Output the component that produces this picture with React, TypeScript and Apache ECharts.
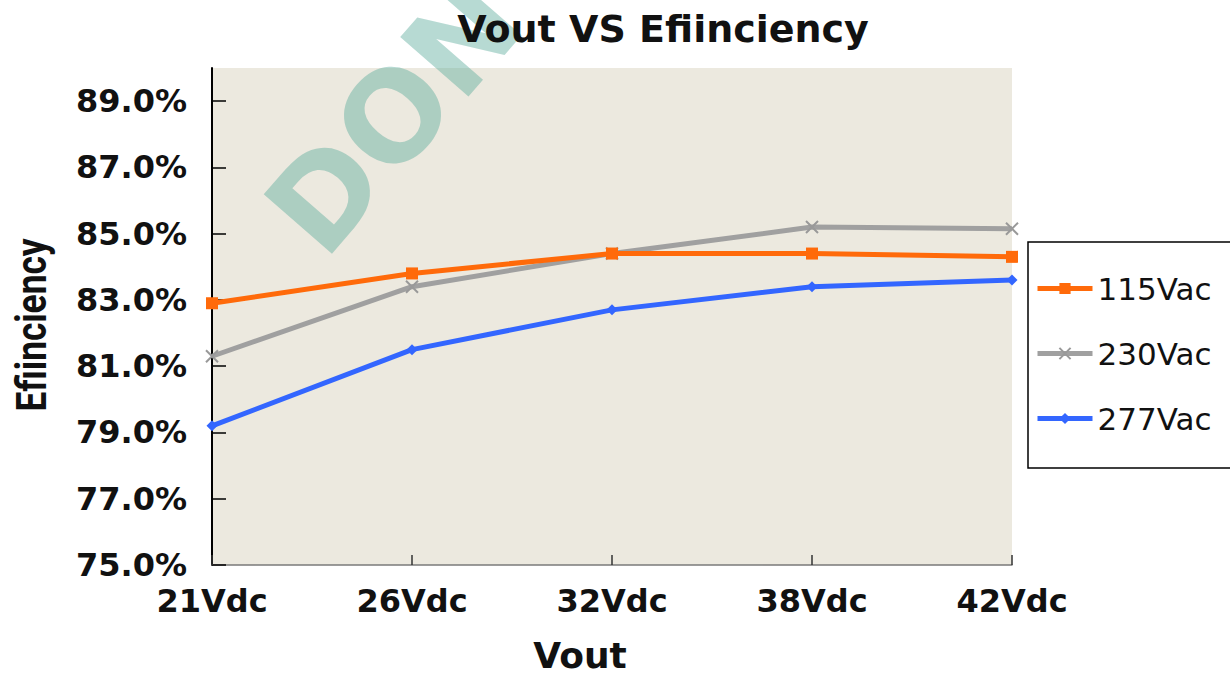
import React, { useEffect, useRef } from "react";
import * as echarts from "echarts";

const categories = ["21Vdc", "26Vdc", "32Vdc", "38Vdc", "42Vdc"];
const seriesNames = ["115Vac", "230Vac", "277Vac"];
const eff115 = [82.9, 83.8, 84.4, 84.4, 84.3];
const eff230 = [81.3, 83.4, 84.4, 85.2, 85.15];
const eff277 = [79.2, 81.5, 82.7, 83.4, 83.6];
const yBase = 75; // axis starts at 75.0%
const yTop = 90;
const yStep = 2;

export default function App() {
  const ref = useRef<HTMLDivElement>(null);
  useEffect(() => {
    if (!ref.current) return;
    const chart = echarts.init(ref.current, null, { renderer: "svg" });
    const shift = (arr: number[]) => arr.map((v) => +(v - yBase).toFixed(3));
    const boldSans = "'DejaVu Sans', sans-serif";
    const crossPath = "path://M0,0L10,10M10,0L0,10";
    chart.setOption({
      animation: false,
      backgroundColor: "#ffffff",
      title: {
        text: "Vout VS Efiinciency",
        left: 658,
        textAlign: "center",
        top: 5,
        z: 10,
        textStyle: {
          fontFamily: boldSans,
          fontWeight: "bold",
          fontSize: 38,
          color: "#111111",
        },
      },
      graphic: [
        {
          type: "text",
          x: 292,
          y: 234,
          rotation: (49 * Math.PI) / 180,
          z: 1,
          silent: true,
          style: {
            text: "DON",
            font: "bold 124px 'DejaVu Sans', sans-serif",
            fill: "rgba(95,172,158,0.45)",
            align: "left",
            verticalAlign: "middle",
          },
        },
        {
          type: "text",
          x: 10,
          y: 325,
          rotation: Math.PI / 2,
          scaleX: 0.84,
          z: 5,
          silent: true,
          style: {
            text: "Efiinciency",
            font: "bold 42px Roboto, sans-serif",
            fill: "#111111",
            align: "center",
            verticalAlign: "top",
          },
        },
      ],
      legend: {
        orient: "vertical",
        left: 1028,
        top: 242,
        padding: [31, 30, 34, 7],
        itemWidth: 55,
        itemHeight: 14,
        itemGap: 34,
        borderColor: "#000000",
        borderWidth: 1.5,
        backgroundColor: "#ffffff",
        data: seriesNames,
        lineStyle: { width: 5 },
        textStyle: {
          fontFamily: "'DejaVu Sans', sans-serif",
          fontSize: 31,
          lineHeight: 30,
          color: "#111111",
        },
      },
      grid: {
        left: 212,
        right: 218,
        top: 68,
        bottom: 109,
        containLabel: false,
        outerBoundsMode: "none",
        show: true,
        backgroundColor: "#ECE9DF",
        borderWidth: 0,
      },
      xAxis: {
        type: "category",
        data: categories,
        boundaryGap: false,
        name: "Vout",
        nameLocation: "middle",
        nameGap: 72,
        nameTextStyle: {
          fontFamily: boldSans,
          fontWeight: "bold",
          fontSize: 36,
          lineHeight: 36,
          color: "#111111",
          padding: [0, 64, 0, 0],
        },
        axisLine: { lineStyle: { color: "#7a7a7a", width: 1.5 } },
        axisTick: { inside: true, length: 10, lineStyle: { color: "#333333", width: 1.5 } },
        axisLabel: {
          margin: 20,
          fontFamily: boldSans,
          fontWeight: "bold",
          fontSize: 32,
          color: "#111111",
        },
        splitLine: { show: false },
      },
      yAxis: {
        type: "value",
        min: 0,
        max: yTop - yBase,
        interval: yStep,
        axisLine: { show: true, lineStyle: { color: "#000000", width: 2 } },
        axisTick: { show: true, inside: true, length: 14, lineStyle: { color: "#000000", width: 1.5 } },
        axisLabel: {
          margin: 25,
          showMaxLabel: false,
          fontFamily: boldSans,
          fontWeight: "bold",
          fontSize: 32,
          color: "#111111",
          formatter: (v: number) => (v >= yTop - yBase ? "" : (v + yBase).toFixed(1) + "%"),
        },
        splitLine: { show: false },
      },
      series: [
        {
          name: seriesNames[0],
          type: "line",
          data: shift(eff115),
          symbol: "rect",
          symbolSize: 12,
          lineStyle: { color: "#FF6A0A", width: 5 },
          itemStyle: { color: "#FF6A0A" },
          z: 3,
        },
        {
          name: seriesNames[1],
          type: "line",
          data: shift(eff230),
          symbol: crossPath,
          symbolSize: 12,
          lineStyle: { color: "#A0A0A0", width: 5 },
          itemStyle: { color: "#A0A0A0", borderColor: "#999999", borderWidth: 2 },
          z: 2,
        },
        {
          name: seriesNames[2],
          type: "line",
          data: shift(eff277),
          symbol: "diamond",
          symbolSize: 11,
          lineStyle: { color: "#3366FF", width: 5 },
          itemStyle: { color: "#3366FF" },
          z: 4,
        },
      ],
    });
    return () => chart.dispose();
  }, []);
  return (
    <div
      ref={ref}
      style={{ position: "fixed", left: 0, top: 0, width: 1230, height: 674 }}
    />
  );
}
